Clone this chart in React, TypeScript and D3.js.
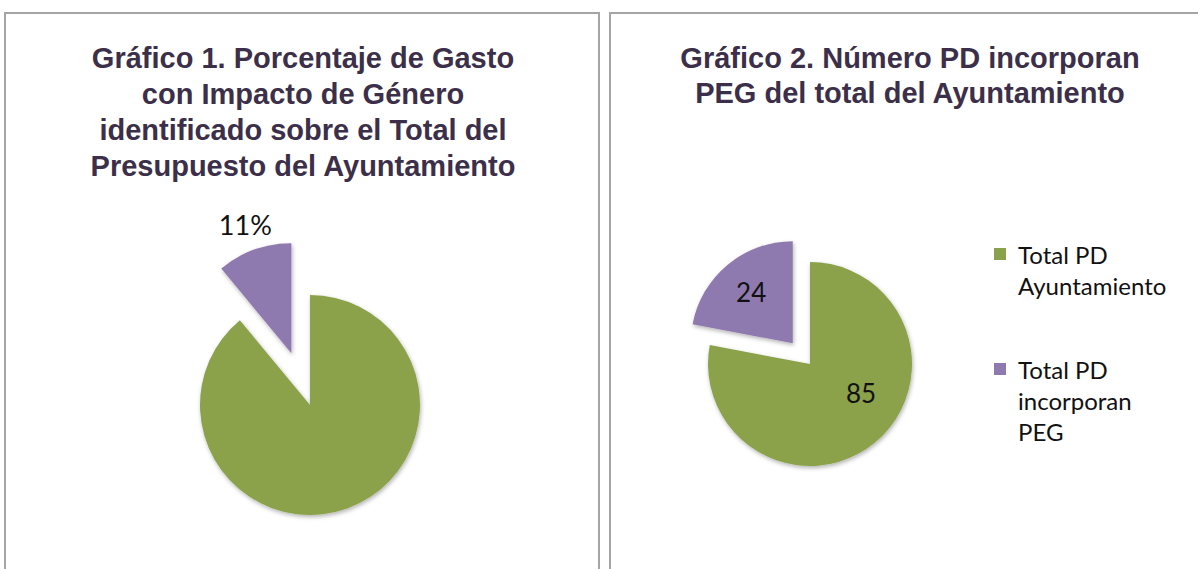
import React, { useEffect, useRef } from 'react';
import * as d3 from 'd3';

// Chart 1: share of spending with gender impact
const chart1Labels = ['Resto del presupuesto', 'Gasto con impacto de género'];
const chart1Values = [89, 11];

// Chart 2: number of PD
const chart2Labels = ['Total PD Ayuntamiento', 'Total PD incorporan PEG'];
const chart2Values = [85, 24];

const title1 = [
  'Gráfico 1. Porcentaje de Gasto',
  'con Impacto de Género',
  'identificado sobre el Total del',
  'Presupuesto del Ayuntamiento',
];
const title2 = ['Gráfico 2. Número PD incorporan', 'PEG del total del Ayuntamiento'];

const legendItems = [
  ['Total PD', 'Ayuntamiento'],
  ['Total PD', 'incorporan', 'PEG'],
];

const colors = ['#8ba24c', '#8f7ab0'];

const App = () => {
  const svgRef = useRef(null);

  useEffect(() => {
    document.body.style.margin = '0';
    const svg = d3.select(svgRef.current);
    svg.selectAll('*').remove();
    svg.attr('width', 1198).attr('height', 569);

    // shadow filter
    const defs = svg.append('defs');
    const f = defs.append('filter').attr('id', 'shadow')
      .attr('x', '-20%').attr('y', '-20%').attr('width', '140%').attr('height', '140%');
    f.append('feDropShadow')
      .attr('dx', 1).attr('dy', 2).attr('stdDeviation', 2)
      .attr('flood-color', '#000').attr('flood-opacity', 0.3);

    // panel borders
    svg.append('rect')
      .attr('x', 5).attr('y', 13).attr('width', 594).attr('height', 600)
      .attr('fill', 'none').attr('stroke', '#a5a5a5').attr('stroke-width', 2);
    svg.append('rect')
      .attr('x', 610).attr('y', 13).attr('width', 600).attr('height', 600)
      .attr('fill', 'none').attr('stroke', '#a5a5a5').attr('stroke-width', 2);

    const titleFont = '"Liberation Sans", Arial, sans-serif';
    const labelFont = 'Lato, "Open Sans", sans-serif';

    const drawTitle = (lines, cx, y0, dy) => {
      svg.append('g').selectAll('text')
        .data(lines)
        .enter()
        .append('text')
        .attr('x', cx)
        .attr('y', (d, i) => y0 + i * dy)
        .attr('text-anchor', 'middle')
        .style('font-family', titleFont)
        .style('font-weight', 'bold')
        .style('font-size', '29px')
        .attr('fill', '#3b2f49')
        .text(d => d);
    };
    drawTitle(title1, 303, 68, 36);
    drawTitle(title2, 910, 68, 35);

    const pie = d3.pie().sort(null).value(d => d);

    const drawPie = (values, labels, cx, cy, r, explode, labelFn) => {
      const arcs = pie(values);
      const arc = d3.arc().innerRadius(0).outerRadius(r);
      const g = svg.append('g').attr('transform', `translate(${cx},${cy})`);
      const slices = g.selectAll('g.slice')
        .data(arcs)
        .enter()
        .append('g')
        .attr('class', 'slice')
        .attr('transform', (d, i) => {
          if (i !== 1) return null;
          const a = (d.startAngle + d.endAngle) / 2;
          return `translate(${Math.sin(a) * explode},${-Math.cos(a) * explode})`;
        });
      slices.append('path')
        .attr('d', arc)
        .attr('fill', (d, i) => colors[i])
        .attr('filter', 'url(#shadow)');
      labelFn(slices, r);
    };

    // Chart 1
    drawPie(chart1Values, chart1Labels, 310, 405, 110, 55, (slices, r) => {
      const labelArc = d3.arc().innerRadius(r + 26).outerRadius(r + 26);
      const total = d3.sum(chart1Values);
      slices.filter((d, i) => i === 1)
        .append('text')
        .attr('transform', d => `translate(${labelArc.centroid(d)})`)
        .attr('text-anchor', 'middle')
        .attr('dy', '0.35em')
        .style('font-family', labelFont)
        .style('font-size', '27px')
        .attr('fill', '#111')
        .text(d => `${Math.round((d.value / total) * 100)}%`);
    });

    // Chart 2
    const labelShift = [-0.35, 0];
    const labelRadius = [0.58, 0.64];
    drawPie(chart2Values, chart2Labels, 810, 364, 102, 27, (slices, r) => {
      slices.append('text')
        .attr('transform', (d, i) => {
          const a = (d.startAngle + d.endAngle) / 2 + labelShift[i];
          const lr = r * labelRadius[i];
          return `translate(${Math.sin(a) * lr},${-Math.cos(a) * lr})`;
        })
        .attr('text-anchor', 'middle')
        .attr('dy', '0.35em')
        .style('font-family', labelFont)
        .style('font-size', '26px')
        .attr('fill', '#111')
        .text(d => d.value);
    });

    // Legend
    const legend = svg.append('g').attr('transform', 'translate(994,248)');
    const item = legend.selectAll('g')
      .data(legendItems)
      .enter()
      .append('g')
      .attr('transform', (d, i) => `translate(0,${i * 115})`);
    item.append('rect')
      .attr('width', 12).attr('height', 12)
      .attr('fill', (d, i) => colors[i]);
    item.each(function (lines) {
      d3.select(this).selectAll('text')
        .data(lines)
        .enter()
        .append('text')
        .attr('x', 24)
        .attr('y', (d, j) => 16 + j * 31)
        .style('font-family', labelFont)
        .style('font-size', '24px')
        .attr('fill', '#111')
        .text(d => d);
    });
  }, []);

  return <svg ref={svgRef}></svg>;
};

export default App;
